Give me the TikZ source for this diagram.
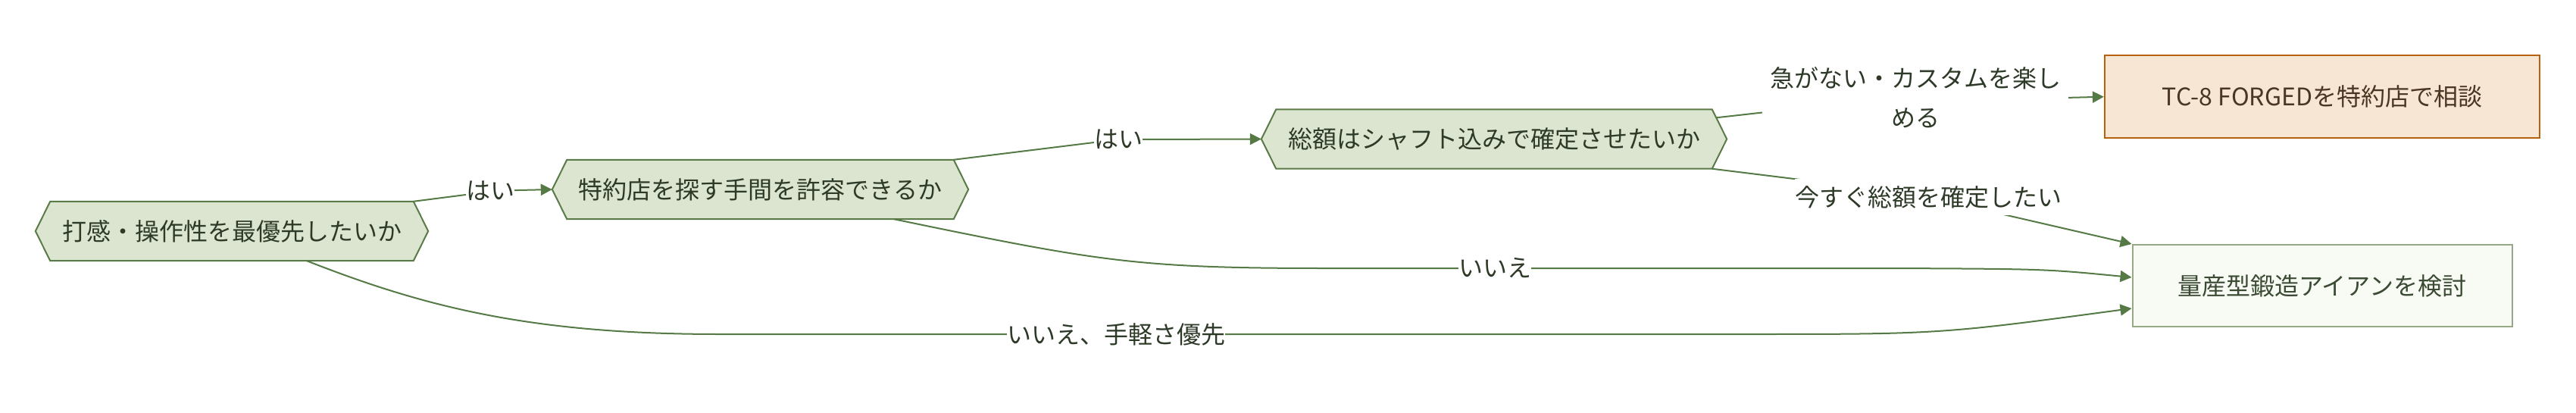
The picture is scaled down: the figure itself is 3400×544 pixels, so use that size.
\documentclass[tikz,border=0pt]{standalone}
\usepackage{fontspec}
\setmainfont{Noto Sans CJK JP}
\usetikzlibrary{arrows.meta}
\pgfdeclarelayer{back}
\pgfdeclarelayer{bg}
\pgfsetlayers{back,bg,main}
\definecolor{hexfill}{HTML}{DCE5CF}
\definecolor{hexborder}{HTML}{5A7A48}
\definecolor{edgecol}{HTML}{557A46}
\definecolor{txtgreen}{HTML}{2E3A28}
\definecolor{dfill}{HTML}{F6E6D3}
\definecolor{dborder}{HTML}{B5610E}
\definecolor{dtext}{HTML}{4A3623}
\definecolor{efill}{HTML}{F8FAF4}
\definecolor{eborder}{HTML}{96A886}
\definecolor{etext}{HTML}{3A4A33}
\tikzset{
  basefont/.style={font=\fontsize{32}{38}\selectfont},
  hexnode/.style={basefont, inner sep=0pt, minimum height=78pt, text=txtgreen},
  hexshape/.style={fill=hexfill, draw=hexborder, line width=2pt, line join=miter},
  boxd/.style={basefont, rectangle, fill=dfill, draw=dborder, line width=2.2pt, text=dtext, minimum width=574pt, minimum height=109pt, inner sep=0pt},
  boxe/.style={basefont, rectangle, fill=efill, draw=eborder, line width=2pt, text=etext, minimum width=501pt, minimum height=108pt, inner sep=0pt},
  edge/.style={draw=edgecol, line width=2pt},
  arr/.style={edge, -{Triangle[length=15pt,width=15pt]}},
  elabel/.style={basefont, fill=white, inner xsep=0pt, inner ysep=0pt, minimum height=48pt, text=txtgreen}
}
\begin{document}
\begin{tikzpicture}[x=1pt,y=-1pt]
\begin{pgfonlayer}{back}
\fill[white] (0,0) rectangle (3400,544);
\end{pgfonlayer}
\useasboundingbox (0,0) rectangle (3400,544);

\node[hexnode, minimum width=518pt] (A) at (306,305) {打感・操作性を最優先したいか};
\node[hexnode, minimum width=549pt] (B) at (1003.5,250) {特約店を探す手間を許容できるか};
\node[hexnode, minimum width=614pt] (C) at (1972,183.5) {総額はシャフト込みで確定させたいか};
\node[boxd] (D) at (3065,127.7) {TC-8 FORGEDを特約店で相談};
\node[boxe] (E) at (3065,377) {量産型鍛造アイアンを検討};

\begin{pgfonlayer}{bg}
\foreach \n in {A,B,C}{
  \path[hexshape] (\n.west) -- ([xshift=19.5pt]\n.north west) -- ([xshift=-19.5pt]\n.north east) -- (\n.east) -- ([xshift=-19.5pt]\n.south east) -- ([xshift=19.5pt]\n.south west) -- cycle;
}
\end{pgfonlayer}

\draw[arr] ([xshift=-19.5pt]A.north east) -- (620,256.3) -- (640,252) -- (B.west);
\draw[arr] ([xshift=-19.5pt]B.north east) -- (1448,187.5) -- (1500,184) -- (C.west);
\draw[arr] ([xshift=-14pt,yshift=-11pt]C.north east) -- (2335,147.5) -- (2725,129) -- (D.west);
\draw[arr] ([xshift=-19.5pt]C.south east) -- (2380,237.5) -- (2640,282) -- (E.north west);
\draw[arr] ([xshift=176.5pt]B.south) .. controls (1450,345) and (1500,354) .. (1750,354) -- (2500,354) .. controls (2700,355) .. ([yshift=11pt]E.west);
\draw[arr] ([xshift=99pt]A.south) .. controls (560,405) and (700,441) .. (950,441) -- (2300,441) .. controls (2560,441) .. ([yshift=-30pt]E.west);

\node[elabel] (l1) at (647,252) {はい};
\node[elabel] (l2) at (1476,184) {はい};
\node[elabel, align=center, inner xsep=10pt, font=\fontsize{32}{52}\selectfont] (l3) at (2528,129) {急がない・カスタムを楽し\\める};
\node[elabel] (l4) at (2545,260) {今すぐ総額を確定したい};
\node[elabel] (l5) at (1973,354) {いいえ};
\node[elabel] (l6) at (1473,441) {いいえ、手軽さ優先};
\end{tikzpicture}
\end{document}
